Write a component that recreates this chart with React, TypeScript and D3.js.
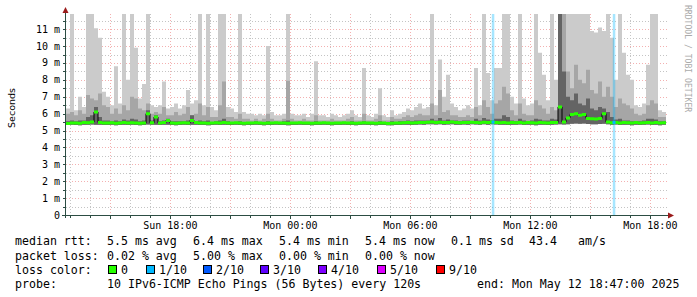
import React from "react";
import * as d3 from "d3";

// ---------- time frame ----------
const startTime = new Date(Date.UTC(2025, 4, 11, 12, 47));
const endTime = new Date(Date.UTC(2025, 4, 12, 18, 47));
const binMinutes = 12;

// ---------- data (ms), one value per 12-minute bin ----------
const median = [
  5.42, 5.44, 5.45, 5.43, 5.47, 5.46, 5.5, 6.1, 5.48, 5.45,
  5.44, 5.46, 5.43, 5.45, 5.47, 5.44, 5.46, 5.45, 5.43, 5.44,
  6.0, 5.46, 5.8, 5.45, 5.47, 5.6, 5.44, 5.43, 5.45, 5.46,
  5.44, 5.6, 5.47, 5.45, 5.44, 5.43, 5.45, 5.46, 5.44, 5.47,
  5.45, 5.44, 5.46, 5.45, 5.43, 5.44, 5.45, 5.46, 5.44, 5.43,
  5.45, 5.44, 5.46, 5.45, 5.44, 5.43, 5.45, 5.44, 5.46, 5.45,
  5.44, 5.43, 5.45, 5.44, 5.46, 5.45, 5.43, 5.44, 5.45, 5.46,
  5.44, 5.45, 5.43, 5.44, 5.46, 5.45, 5.44, 5.43, 5.45, 5.44,
  5.42, 5.43, 5.45, 5.44, 5.46, 5.47, 5.45, 5.46, 5.48, 5.47,
  5.49, 5.5, 5.48, 5.49, 5.47, 5.48, 5.5, 5.47, 5.46, 5.48,
  5.47, 5.49, 5.48, 5.46, 5.49, 5.47, 5.5, 5.48, 5.46, 5.47,
  5.45, 5.47, 5.46, 5.48, 5.45, 5.47, 5.46, 5.44, 5.47, 5.46,
  5.45, 5.47, 5.48, 6.4, 5.5, 5.75, 5.95, 6.0, 5.9, 5.95,
  5.72, 5.7, 5.68, 5.72, 6.0, 5.5, 5.46, 5.48, 5.45, 5.47,
  5.46, 5.44, 5.47, 5.45, 5.46, 5.48, 5.45, 5.47, 5.44, 5.46,
];

const smokeMax = [
  6.3, 11.9, 6.2, 7.0, 6.4, 11.9, 11.9, 11.05, 10.5, 7.3,
  7.0, 6.5, 8.8, 6.6, 11.9, 8.0, 11.9, 9.9, 6.9, 7.75,
  11.9, 6.5, 6.4, 6.5, 7.9, 6.3, 6.4, 6.6, 6.3, 6.5,
  7.4, 6.6, 6.8, 11.9, 6.5, 11.9, 6.4, 6.2, 11.9, 11.9,
  6.4, 6.3, 6.1, 11.9, 6.1, 6.0, 6.0, 5.9, 6.0, 5.9,
  10.0, 6.1, 5.9, 5.9, 6.0, 11.9, 6.0, 5.9, 5.9, 6.0,
  5.8, 6.0, 9.1, 5.9, 5.9, 5.8, 6.0, 5.9, 5.8, 5.9,
  6.0, 6.2, 5.9, 5.8, 8.7, 5.9, 5.8, 6.0, 7.5, 5.9,
  5.8, 6.2, 5.9, 6.0, 6.1, 6.3, 6.2, 6.4, 6.6, 6.3,
  6.4, 11.9, 6.5, 9.2, 7.0, 8.3, 6.6, 6.4, 6.2, 6.3,
  6.5, 6.3, 8.7, 6.5, 11.9, 8.4, 6.8, 8.7, 8.7, 11.9,
  11.9, 7.0, 6.6, 11.9, 6.9, 6.5, 6.6, 11.9, 9.6, 8.3,
  6.8, 11.9, 8.0, 11.9, 11.9, 11.9, 11.9, 11.9, 11.9, 11.9,
  11.9, 10.9, 10.8, 11.1, 10.9, 11.9, 10.5, 8.0, 11.9, 9.6,
  8.3, 8.0, 6.5, 6.4, 6.6, 8.9, 11.9, 11.9, 6.2, 6.1,
];

const smokeMid = [
  6.0, 6.1, 5.9, 6.2, 6.0, 7.1, 6.9, 6.8, 7.2, 6.5,
  6.4, 6.0, 6.3, 6.0, 6.5, 6.2, 7.0, 6.9, 6.3, 6.2,
  6.6, 6.0, 6.1, 6.0, 6.4, 5.9, 5.9, 6.1, 5.9, 6.0,
  6.4, 5.9, 6.0, 6.6, 5.9, 6.4, 5.8, 5.8, 6.5, 7.9,
  5.8, 5.8, 5.7, 6.0, 5.7, 5.7, 5.6, 5.7, 5.6, 5.7,
  6.0, 5.7, 5.6, 5.6, 5.7, 7.95, 5.7, 5.6, 5.6, 5.7,
  5.6, 5.6, 5.9, 5.6, 5.6, 5.6, 5.7, 5.6, 5.6, 5.6,
  5.7, 5.8, 5.6, 5.6, 6.0, 5.6, 5.6, 5.7, 5.9, 5.6,
  5.6, 5.8, 5.7, 5.7, 5.8, 5.9, 5.8, 5.9, 6.0, 5.9,
  5.9, 6.6, 5.9, 7.4, 6.1, 6.2, 5.9, 5.9, 5.8, 5.8,
  5.9, 5.8, 6.4, 5.9, 6.8, 6.4, 6.0, 6.6, 6.8, 7.6,
  7.2, 6.2, 5.9, 6.6, 6.0, 5.9, 5.9, 6.8, 6.5, 6.3,
  6.0, 6.4, 6.2, 11.9, 11.9, 8.5, 7.5, 8.9, 8.0, 7.8,
  8.6, 7.4, 7.2, 7.9, 7.0, 7.6, 7.0, 6.4, 6.9, 6.6,
  6.5, 6.3, 6.0, 5.9, 6.0, 6.5, 6.8, 6.6, 5.8, 5.8,
];

const smokeInner = [
  5.55, 5.6, 5.55, 5.6, 5.6, 5.8, 5.9, 6.4, 5.8, 5.6,
  5.6, 5.55, 5.6, 5.55, 5.65, 5.6, 5.7, 5.65, 5.55, 5.6,
  6.2, 5.6, 5.9, 5.55, 5.6, 5.7, 5.55, 5.55, 5.55, 5.55,
  5.6, 5.9, 5.55, 5.6, 5.55, 5.6, 5.5, 5.55, 5.6, 5.7,
  5.55, 5.5, 5.5, 5.55, 5.5, 5.5, 5.5, 5.55, 5.5, 5.5,
  5.55, 5.5, 5.5, 5.5, 5.55, 5.6, 5.5, 5.5, 5.5, 5.5,
  5.5, 5.5, 5.55, 5.5, 5.5, 5.5, 5.5, 5.5, 5.5, 5.5,
  5.5, 5.55, 5.5, 5.5, 5.55, 5.5, 5.5, 5.5, 5.55, 5.5,
  5.5, 5.55, 5.5, 5.55, 5.55, 5.6, 5.55, 5.6, 5.6, 5.6,
  5.6, 5.7, 5.6, 5.75, 5.6, 5.65, 5.6, 5.6, 5.55, 5.6,
  5.6, 5.55, 5.7, 5.6, 5.75, 5.65, 5.6, 5.7, 5.7, 5.9,
  5.8, 5.6, 5.55, 5.7, 5.6, 5.55, 5.6, 5.7, 5.65, 5.6,
  5.6, 5.7, 5.65, 11.9, 8.5, 7.0, 6.8, 7.2, 6.6, 6.5,
  6.9, 6.3, 6.2, 6.4, 6.3, 6.1, 5.8, 5.65, 5.7, 5.6,
  5.6, 5.55, 5.55, 5.55, 5.6, 5.7, 5.7, 5.65, 5.55, 5.55,
];

const smokeMin = [
  5.33, 5.34, 5.33, 5.32, 5.35, 5.34, 5.36, 5.35, 5.34, 5.33,
  5.33, 5.34, 5.32, 5.33, 5.35, 5.33, 5.34, 5.33, 5.32, 5.33,
  5.36, 5.34, 5.35, 5.33, 5.34, 5.35, 5.33, 5.32, 5.33, 5.34,
  5.33, 5.35, 5.34, 5.33, 5.33, 5.32, 5.33, 5.34, 5.33, 5.35,
  5.33, 5.33, 5.34, 5.33, 5.32, 5.33, 5.33, 5.34, 5.33, 5.32,
  5.33, 5.33, 5.34, 5.33, 5.33, 5.32, 5.33, 5.33, 5.34, 5.33,
  5.33, 5.32, 5.33, 5.33, 5.34, 5.33, 5.32, 5.33, 5.33, 5.34,
  5.33, 5.33, 5.32, 5.33, 5.34, 5.33, 5.33, 5.32, 5.33, 5.33,
  5.31, 5.32, 5.33, 5.33, 5.34, 5.35, 5.33, 5.34, 5.36, 5.35,
  5.37, 5.38, 5.36, 5.37, 5.35, 5.36, 5.38, 5.35, 5.34, 5.36,
  5.35, 5.37, 5.36, 5.34, 5.37, 5.35, 5.38, 5.36, 5.34, 5.35,
  5.33, 5.35, 5.34, 5.36, 5.33, 5.35, 5.34, 5.32, 5.35, 5.34,
  5.33, 5.35, 5.36, 5.38, 5.36, 5.38, 5.4, 5.42, 5.4, 5.41,
  5.39, 5.38, 5.38, 5.39, 5.4, 5.37, 5.34, 5.36, 5.33, 5.35,
  5.34, 5.32, 5.35, 5.33, 5.34, 5.36, 5.33, 5.35, 5.32, 5.34,
];

const lossEvents = [
  { time: new Date(Date.UTC(2025, 4, 12, 10, 8)), loss: "1/10" },
  { time: new Date(Date.UTC(2025, 4, 12, 16, 11)), loss: "1/10" },
];

const yTickValues = [0, 1, 2, 3, 4, 5, 6, 7, 8, 9, 10, 11];
const yTickLabels = ["0", "1 m", "2 m", "3 m", "4 m", "5 m", "6 m", "7 m", "8 m", "9 m", "10 m", "11 m"];

const rttStats = ["5.5 ms avg", "6.4 ms max", "5.4 ms min", "5.4 ms now", "0.1 ms sd", "43.4", "am/s"];
const lossStats = ["0.02 % avg", "5.00 % max", "0.00 % min", "0.00 % now"];
const lossLegendLabels = ["0", "1/10", "2/10", "3/10", "4/10", "5/10", "9/10"];
const lossLegendColors = ["#26ff00", "#00b8ff", "#0059ff", "#5e00ff", "#7e00ff", "#dd00ff", "#ff0000"];
const probeText = "10 IPv6-ICMP Echo Pings (56 Bytes) every 120s";
const endText = "end: Mon May 12 18:47:00 2025";

// ---------- layout ----------
const W = 697;
const H = 297;
const plotLeft = 66;
const plotRight = 666;
const plotTop = 14;
const plotBottom = 215;
const mono = "'DejaVu Sans Mono', monospace";
const statX = [107, 193, 279, 365, 451, 529, 578];
const lossBoxX = [108, 146, 203, 260, 318, 377, 436];
const rowY = [245, 259.5, 273.5, 288];

export default function App() {
  const x = d3.scaleUtc().domain([startTime, endTime]).range([plotLeft, plotRight]);
  const y = d3.scaleLinear().domain([0, 11.9]).range([plotBottom, plotTop]);

  const n = median.length;
  const idx = d3.range(n + 1);
  const binTime = (k: number) => d3.utcMinute.offset(startTime, k * binMinutes);
  const at = (arr: number[], k: number) => arr[Math.min(k, n - 1)];

  const band = (top: number[]) =>
    d3
      .area<number>()
      .x((k) => x(binTime(k)))
      .y0((k) => y(at(smokeMin, k)))
      .y1((k) => y(at(top, k)))
      .curve(d3.curveStepAfter)(idx) || "";

  const medLine =
    d3
      .line<number>()
      .x((k) => x(binTime(k)))
      .y((k) => y(at(median, k)))
      .curve(d3.curveStepAfter)(idx) || "";

  const medBand =
    d3
      .area<number>()
      .x((k) => x(binTime(k)))
      .y0((k) => y(at(median, k)) + 1.5)
      .y1((k) => y(at(median, k)) - 1.5)
      .curve(d3.curveStepAfter)(idx) || "";

  const hourTicks = d3.utcHour.every(1)!.range(startTime, endTime);
  const minorX = hourTicks.filter((t) => t.getUTCHours() % 3 !== 0);
  const majorX = hourTicks.filter((t) => t.getUTCHours() % 3 === 0);
  const labelX = hourTicks.filter((t) => t.getUTCHours() % 6 === 0);
  const fmt = d3.utcFormat("%a %H:%M");

  const minorY = d3.range(0.5, 11.9, 1);
  const majorY = yTickValues.filter((v) => v > 0);
  const px = (v: number) => Math.round(v) + 0.5;

  const gridGray = "#c4c4c4";
  const gridRed = "#f3b0b0";
  const axisColor = "#2c4d43";
  const arrowColor = "#9a1b1b";

  return (
    <svg
      width={W}
      height={H}
      viewBox={`0 0 ${W} ${H}`}
      style={{ position: "absolute", left: 0, top: 0, background: "#ffffff" }}
    >
      <rect x={0} y={0} width={W} height={H} fill="#ffffff" />

      {/* grid */}
      <g shapeRendering="crispEdges" strokeWidth={1} strokeDasharray="1,2">
        {minorY.map((v) => (
          <line key={"my" + v} x1={plotLeft} x2={plotRight + 2} y1={px(y(v))} y2={px(y(v))} stroke={gridGray} />
        ))}
        {minorX.map((t) => (
          <line key={"mx" + +t} x1={px(x(t))} x2={px(x(t))} y1={plotTop} y2={plotBottom} stroke={gridGray} />
        ))}
        {majorY.map((v) => (
          <line key={"My" + v} x1={plotLeft} x2={plotRight + 2} y1={px(y(v))} y2={px(y(v))} stroke={gridRed} />
        ))}
        {majorX.map((t) => (
          <line key={"Mx" + +t} x1={px(x(t))} x2={px(x(t))} y1={plotTop} y2={plotBottom} stroke={gridRed} />
        ))}
      </g>

      {/* smoke */}
      <path d={band(smokeMax)} fill="#cbcbcb" />
      <path d={band(smokeMid)} fill="#a6a6a6" />
      <path d={band(smokeInner)} fill="#646464" />

      {/* loss bars */}
      {lossEvents.map((e, i) => (
        <rect
          key={"loss" + i}
          x={x(e.time) - 1.2}
          width={2.5}
          y={plotTop}
          height={plotBottom - plotTop}
          fill="#00b8ff"
          opacity={0.35}
        />
      ))}

      {/* median */}
      <path d={medLine} fill="none" stroke="#000000" strokeWidth={1} />
      <path d={medBand} fill="#26ff00" />
      {lossEvents.map((e, i) => {
        const k = Math.floor(d3.utcMinute.count(startTime, e.time) / binMinutes);
        return (
          <rect
            key={"lm" + i}
            x={x(e.time) - 1.5}
            width={3}
            y={y(median[k]) - 1.5}
            height={3}
            fill="#00b8ff"
          />
        );
      })}

      {/* axes */}
      <g shapeRendering="crispEdges">
        <line x1={62} x2={670} y1={plotBottom + 0.5} y2={plotBottom + 0.5} stroke={axisColor} />
        <line x1={plotLeft - 0.5} x2={plotLeft - 0.5} y1={plotBottom + 3} y2={10} stroke={axisColor} />
        {hourTicks.map((t) => (
          <line
            key={"xt" + +t}
            x1={px(x(t))}
            x2={px(x(t))}
            y1={plotBottom + 1}
            y2={plotBottom + (t.getUTCHours() % 3 === 0 ? 4 : 3)}
            stroke={axisColor}
          />
        ))}
        {d3.range(0, 11.9, 0.5).map((v) => (
          <line
            key={"yt" + v}
            x1={plotLeft - 3}
            x2={plotLeft - 1}
            y1={px(y(v))}
            y2={px(y(v))}
            stroke={axisColor}
          />
        ))}
      </g>
      <path d={`M${plotLeft - 3.5},${plotTop - 1} L${plotLeft - 0.5},${plotTop - 7} L${plotLeft + 2.5},${plotTop - 1} Z`} fill={arrowColor} />
      <path d={`M668,${plotBottom - 2.5} L674,${plotBottom + 0.5} L668,${plotBottom + 3.5} Z`} fill={arrowColor} />

      {/* axis labels */}
      <g fontFamily={mono} fontSize={10} fill="#000000">
        {yTickValues.map((v, i) => (
          <text key={"yl" + v} x={60} y={y(v) + 3.5} textAnchor="end">
            {yTickLabels[i]}
          </text>
        ))}
        {labelX.map((t) => (
          <text key={"xl" + +t} x={x(t)} y={228.5} textAnchor="middle">
            {fmt(t)}
          </text>
        ))}
      </g>

      <text
        transform="translate(15,108) rotate(-90)"
        textAnchor="middle"
        fontFamily="'DejaVu Sans', sans-serif"
        fontSize={9.5}
        fill="#000000"
      >
        Seconds
      </text>

      <text
        transform="translate(685,5) rotate(90)"
        fontFamily={mono}
        fontSize={8.1}
        fill="#aaaaaa"
      >
        RRDTOOL / TOBI OETIKER
      </text>

      {/* legend */}
      <g fontFamily={mono} fontSize={11.6} fill="#000000" style={{ whiteSpace: "pre" }}>
        <text x={15} y={rowY[0]}>median rtt:</text>
        {rttStats.map((s, i) => (
          <text key={"rs" + i} x={statX[i]} y={rowY[0]}>{s}</text>
        ))}
        <text x={15} y={rowY[1]}>packet loss:</text>
        {lossStats.map((s, i) => (
          <text key={"ls" + i} x={statX[i]} y={rowY[1]}>{s}</text>
        ))}
        <text x={15} y={rowY[2]}>loss color:</text>
        {lossLegendLabels.map((s, i) => (
          <g key={"lc" + i}>
            <rect
              x={lossBoxX[i] + 0.5}
              y={rowY[2] - 8.5}
              width={8}
              height={8}
              fill={lossLegendColors[i]}
              stroke="#000000"
              strokeWidth={1}
              shapeRendering="crispEdges"
            />
            <text x={lossBoxX[i] + 13} y={rowY[2]}>{s}</text>
          </g>
        ))}
        <text x={15} y={rowY[3]}>probe:</text>
        <text x={statX[0]} y={rowY[3]}>{probeText}</text>
        <text x={477} y={rowY[3]}>{endText}</text>
      </g>
    </svg>
  );
}
